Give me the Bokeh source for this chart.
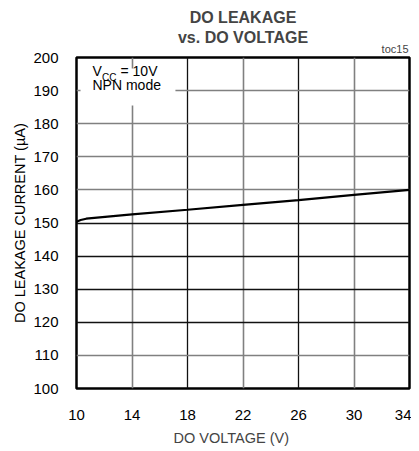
from bokeh.plotting import figure
from bokeh.models import Grid, FixedTicker, Range1d, Title, Label
from bokeh.embed import file_html
from bokeh.resources import INLINE

# ---- data ----
voltage = [10, 10.3, 10.7, 14, 18, 22, 26, 30, 34]
leakage = [150.4, 150.9, 151.3, 152.6, 154.0, 155.5, 156.9, 158.5, 160.0]
x_ticks = [10, 14, 18, 22, 26, 30, 34]
y_ticks = [100, 110, 120, 130, 140, 150, 160, 170, 180, 190, 200]
x_grid_gray = [14, 22, 30]
x_grid_dark = [18, 26]
y_grid_gray = [110, 160, 170, 180, 190]
y_grid_dark = [120, 130, 140, 150]
title_lines = ["DO LEAKAGE", "vs. DO VOLTAGE"]
tag = "toc15"
x_label = "DO VOLTAGE (V)"
y_label = "DO LEAKAGE CURRENT (\u00b5A)"
note_line1 = ["V", "CC", "= 10V"]
note_line2 = "NPN mode"
note_box_x = [10.29, 17.13]
note_box_y = [185.5, 196.7]

FONT = "Liberation Sans"

p = figure(width=411, height=450,
           x_range=Range1d(10, 34), y_range=Range1d(100, 200),
           output_backend="svg", toolbar_location=None,
           min_border_left=76, min_border_right=2, min_border_top=57, min_border_bottom=62)
p.background_fill_color = "white"
p.border_fill_color = "white"
p.outline_line_color = "black"
p.outline_line_width = 2.5

for ax in (p.xaxis[0], p.yaxis[0]):
    ax.axis_line_color = None
    ax.major_tick_line_color = None
    ax.minor_tick_line_color = None
    ax.major_label_text_font = FONT
    ax.major_label_text_font_size = "15px"
    ax.major_label_text_color = "black"
    ax.axis_label_text_font = FONT
    ax.axis_label_text_font_size = "14.5px"
    ax.axis_label_text_font_style = "normal"
    ax.axis_label_text_color = "black"
p.xaxis[0].ticker = FixedTicker(ticks=x_ticks)
p.yaxis[0].ticker = FixedTicker(ticks=y_ticks)
p.xaxis[0].major_label_standoff = 15
p.yaxis[0].major_label_standoff = 12
p.yaxis[0].axis_label = y_label
p.yaxis[0].axis_label_standoff = 2

p.xgrid.grid_line_color = None
p.ygrid.grid_line_color = None
p.add_layout(Grid(dimension=0, ticker=FixedTicker(ticks=x_grid_gray), grid_line_color="#808080", grid_line_width=1.6))
p.add_layout(Grid(dimension=0, ticker=FixedTicker(ticks=x_grid_dark), grid_line_color="#111111", grid_line_width=1.3))
p.add_layout(Grid(dimension=1, ticker=FixedTicker(ticks=y_grid_gray), grid_line_color="#808080", grid_line_width=1.6))
p.add_layout(Grid(dimension=1, ticker=FixedTicker(ticks=y_grid_dark), grid_line_color="#111111", grid_line_width=1.3))

# titles above the frame (first added = closest to frame)
p.add_layout(Title(text=tag, align="right", text_font=FONT, text_font_size="11px",
                   text_font_style="normal", standoff=6, offset=1), "above")
p.add_layout(Title(text=title_lines[1], align="center", text_font=FONT, text_font_size="16px",
                   text_font_style="bold", standoff=-16), "above")
p.add_layout(Title(text=title_lines[0], align="center", text_font=FONT, text_font_size="16px",
                   text_font_style="bold", standoff=14, vertical_align="top"), "above")
# x axis label as a below title (shifted left of centre as in the reference)
p.add_layout(Title(text=x_label, align="left", text_font=FONT, text_font_size="14.5px",
                   text_font_style="normal", standoff=10, offset=97), "below")

# white box behind the note
p.quad(left=[note_box_x[0]], right=[note_box_x[1]], bottom=[note_box_y[0]], top=[note_box_y[1]],
       fill_color="white", line_color=None)

p.line(voltage, leakage, line_color="black", line_width=2.2)

def lab(**kw):
    kw.setdefault("text_font", FONT)
    kw.setdefault("text_color", "black")
    p.add_layout(Label(**kw))

lab(x=x_ticks[0], y=y_ticks[-1], x_offset=16, y_offset=-21, text=note_line1[0], text_font_size="14px")
lab(x=x_ticks[0], y=y_ticks[-1], x_offset=25.5, y_offset=-25, text=note_line1[1], text_font_size="10px")
lab(x=x_ticks[0], y=y_ticks[-1], x_offset=44, y_offset=-21, text=note_line1[2], text_font_size="14px")
lab(x=x_ticks[0], y=y_ticks[-1], x_offset=16, y_offset=-35, text=note_line2, text_font_size="14px")

open("out.html", "w").write(file_html(p, INLINE))
